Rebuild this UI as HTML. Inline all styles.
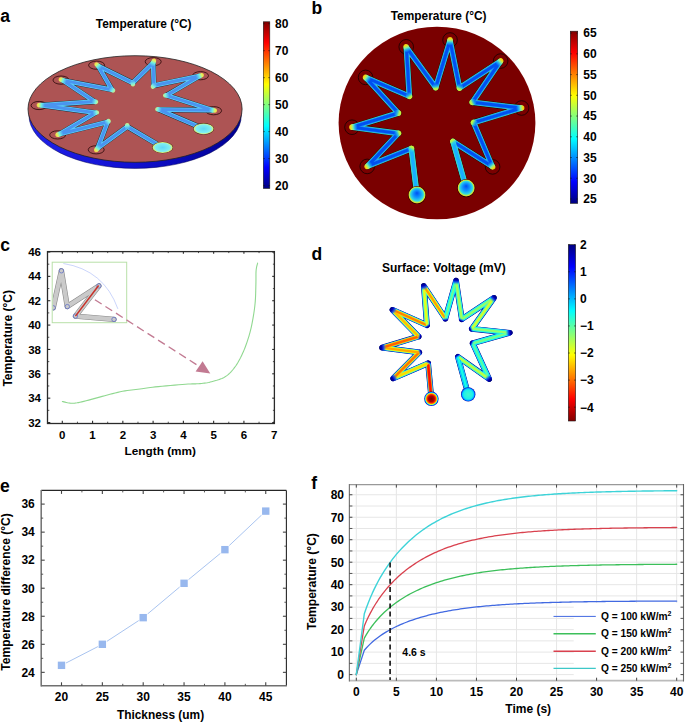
<!DOCTYPE html>
<html><head><meta charset="utf-8"><style>
html,body{margin:0;padding:0;background:#fff;}
svg{display:block;font-family:"Liberation Sans", sans-serif;}
</style></head><body>
<svg width="685" height="725" viewBox="0 0 685 725">
<rect width="685" height="725" fill="#fff"/>
<defs>
<linearGradient id="jetV" x1="0" y1="0" x2="0" y2="1"><stop offset="0.0000" stop-color="#800000"/><stop offset="0.0625" stop-color="#bf0000"/><stop offset="0.1250" stop-color="#ff0000"/><stop offset="0.1875" stop-color="#ff4000"/><stop offset="0.2500" stop-color="#ff8000"/><stop offset="0.3125" stop-color="#ffbf00"/><stop offset="0.3750" stop-color="#ffff00"/><stop offset="0.4375" stop-color="#bfff40"/><stop offset="0.5000" stop-color="#80ff80"/><stop offset="0.5625" stop-color="#40ffbf"/><stop offset="0.6250" stop-color="#00ffff"/><stop offset="0.6875" stop-color="#00bfff"/><stop offset="0.7500" stop-color="#0080ff"/><stop offset="0.8125" stop-color="#0040ff"/><stop offset="0.8750" stop-color="#0000ff"/><stop offset="0.9375" stop-color="#0000bf"/><stop offset="1.0000" stop-color="#000080"/></linearGradient>
<linearGradient id="jetVr" x1="0" y1="0" x2="0" y2="1"><stop offset="0.0000" stop-color="#000080"/><stop offset="0.0625" stop-color="#0000bf"/><stop offset="0.1250" stop-color="#0000ff"/><stop offset="0.1875" stop-color="#0040ff"/><stop offset="0.2500" stop-color="#0080ff"/><stop offset="0.3125" stop-color="#00bfff"/><stop offset="0.3750" stop-color="#00ffff"/><stop offset="0.4375" stop-color="#40ffbf"/><stop offset="0.5000" stop-color="#80ff80"/><stop offset="0.5625" stop-color="#bfff40"/><stop offset="0.6250" stop-color="#ffff00"/><stop offset="0.6875" stop-color="#ffbf00"/><stop offset="0.7500" stop-color="#ff8000"/><stop offset="0.8125" stop-color="#ff4000"/><stop offset="0.8750" stop-color="#ff0000"/><stop offset="0.9375" stop-color="#bf0000"/><stop offset="1.0000" stop-color="#800000"/></linearGradient>
<linearGradient id="sideA" x1="0" y1="0" x2="1" y2="0"><stop offset="0" stop-color="#2020e8"/><stop offset="0.5" stop-color="#1010d0"/><stop offset="1" stop-color="#000090"/></linearGradient>
<radialGradient id="padB" cx="0.5" cy="0.5" r="0.5" fx="0.5" fy="0.38"><stop offset="0" stop-color="#0050f0"/><stop offset="0.45" stop-color="#1098ff"/><stop offset="0.75" stop-color="#30d8e0"/><stop offset="0.88" stop-color="#a0f060"/><stop offset="0.95" stop-color="#f0d020"/><stop offset="1" stop-color="#ff9000"/></radialGradient>
<radialGradient id="padA"><stop offset="0" stop-color="#60d8f8"/><stop offset="0.75" stop-color="#80f0f0"/><stop offset="1" stop-color="#f0f060"/></radialGradient>
<radialGradient id="padDL"><stop offset="0" stop-color="#700000"/><stop offset="0.4" stop-color="#b00000"/><stop offset="0.6" stop-color="#ff3000"/><stop offset="0.72" stop-color="#ffb000"/><stop offset="0.8" stop-color="#c0ff40"/><stop offset="0.86" stop-color="#00d8ff"/><stop offset="0.93" stop-color="#0030ff"/><stop offset="1" stop-color="#000080"/></radialGradient>
<radialGradient id="padDR"><stop offset="0" stop-color="#40f8d0"/><stop offset="0.6" stop-color="#20f0e8"/><stop offset="0.8" stop-color="#00c8ff"/><stop offset="0.9" stop-color="#0050ff"/><stop offset="1" stop-color="#000090"/></radialGradient>
<linearGradient id="tipD" x1="0" y1="1" x2="0" y2="0"><stop offset="0" stop-color="#000070"/><stop offset="0.35" stop-color="#0000b8"/><stop offset="0.6" stop-color="#0040ff" stop-opacity="0.85"/><stop offset="0.85" stop-color="#00a0ff" stop-opacity="0.3"/><stop offset="1" stop-color="#00e0ff" stop-opacity="0"/></linearGradient>
<linearGradient id="tipBo" x1="0" y1="1" x2="0" y2="0"><stop offset="0" stop-color="#ffb000"/><stop offset="0.2" stop-color="#f0e020"/><stop offset="0.45" stop-color="#80f0a0"/><stop offset="0.7" stop-color="#30e0f0" stop-opacity="0.6"/><stop offset="1" stop-color="#20c0ff" stop-opacity="0"/></linearGradient>
<linearGradient id="tipBi" x1="0" y1="1" x2="0" y2="0"><stop offset="0" stop-color="#e0f020"/><stop offset="0.3" stop-color="#a0f060"/><stop offset="0.6" stop-color="#30e0e0" stop-opacity="0.6"/><stop offset="1" stop-color="#20c0ff" stop-opacity="0"/></linearGradient>
<linearGradient id="tipAo" x1="0" y1="1" x2="0" y2="0"><stop offset="0" stop-color="#f0d040"/><stop offset="0.25" stop-color="#e8f060"/><stop offset="0.55" stop-color="#70f0e0"/><stop offset="1" stop-color="#60e0f8" stop-opacity="0"/></linearGradient>
<linearGradient id="tipAi" x1="0" y1="1" x2="0" y2="0"><stop offset="0" stop-color="#d0f080"/><stop offset="0.4" stop-color="#80f0e0"/><stop offset="1" stop-color="#60e0f8" stop-opacity="0"/></linearGradient>
<linearGradient id="tipDi" x1="0" y1="1" x2="0" y2="0"><stop offset="0" stop-color="#000070"/><stop offset="0.2" stop-color="#0000c0"/><stop offset="0.38" stop-color="#0060ff" stop-opacity="0.6"/><stop offset="0.55" stop-color="#00c0ff" stop-opacity="0"/><stop offset="1" stop-color="#00c0ff" stop-opacity="0"/></linearGradient>
</defs>
<text x="0.20" y="22.30" font-size="17.5" text-anchor="start" font-weight="bold" fill="#000" >a</text>
<text x="311.50" y="14.30" font-size="17.5" text-anchor="start" font-weight="bold" fill="#000" >b</text>
<text x="0.30" y="250.80" font-size="17.5" text-anchor="start" font-weight="bold" fill="#000" >c</text>
<text x="311.50" y="259.50" font-size="17.5" text-anchor="start" font-weight="bold" fill="#000" >d</text>
<text x="0.00" y="491.70" font-size="17.5" text-anchor="start" font-weight="bold" fill="#000" >e</text>
<text x="311.20" y="489.00" font-size="17.5" text-anchor="start" font-weight="bold" fill="#000" >f</text>
<rect x="263.3" y="21.8" width="6.5" height="166.6" fill="url(#jetV)" stroke="#1a1a1a" stroke-width="0.6"/>
<text x="275.00" y="28.00" font-size="12" text-anchor="start" font-weight="bold" fill="#000" >80</text>
<line x1="263.30" y1="23.70" x2="264.80" y2="23.70" stroke="#111" stroke-width="0.6" />
<line x1="268.30" y1="23.70" x2="269.80" y2="23.70" stroke="#111" stroke-width="0.6" />
<text x="275.00" y="54.98" font-size="12" text-anchor="start" font-weight="bold" fill="#000" >70</text>
<line x1="263.30" y1="50.68" x2="264.80" y2="50.68" stroke="#111" stroke-width="0.6" />
<line x1="268.30" y1="50.68" x2="269.80" y2="50.68" stroke="#111" stroke-width="0.6" />
<text x="275.00" y="81.96" font-size="12" text-anchor="start" font-weight="bold" fill="#000" >60</text>
<line x1="263.30" y1="77.67" x2="264.80" y2="77.67" stroke="#111" stroke-width="0.6" />
<line x1="268.30" y1="77.67" x2="269.80" y2="77.67" stroke="#111" stroke-width="0.6" />
<text x="275.00" y="108.95" font-size="12" text-anchor="start" font-weight="bold" fill="#000" >50</text>
<line x1="263.30" y1="104.65" x2="264.80" y2="104.65" stroke="#111" stroke-width="0.6" />
<line x1="268.30" y1="104.65" x2="269.80" y2="104.65" stroke="#111" stroke-width="0.6" />
<text x="275.00" y="135.93" font-size="12" text-anchor="start" font-weight="bold" fill="#000" >40</text>
<line x1="263.30" y1="131.63" x2="264.80" y2="131.63" stroke="#111" stroke-width="0.6" />
<line x1="268.30" y1="131.63" x2="269.80" y2="131.63" stroke="#111" stroke-width="0.6" />
<text x="275.00" y="162.91" font-size="12" text-anchor="start" font-weight="bold" fill="#000" >30</text>
<line x1="263.30" y1="158.62" x2="264.80" y2="158.62" stroke="#111" stroke-width="0.6" />
<line x1="268.30" y1="158.62" x2="269.80" y2="158.62" stroke="#111" stroke-width="0.6" />
<text x="275.00" y="189.90" font-size="12" text-anchor="start" font-weight="bold" fill="#000" >20</text>
<line x1="263.30" y1="185.60" x2="264.80" y2="185.60" stroke="#111" stroke-width="0.6" />
<line x1="268.30" y1="185.60" x2="269.80" y2="185.60" stroke="#111" stroke-width="0.6" />
<rect x="570.3" y="31.2" width="7.400000000000091" height="172.10000000000002" fill="url(#jetV)" stroke="#1a1a1a" stroke-width="0.6"/>
<text x="583.30" y="37.40" font-size="12" text-anchor="start" font-weight="bold" fill="#000" >65</text>
<line x1="570.30" y1="33.10" x2="571.80" y2="33.10" stroke="#111" stroke-width="0.6" />
<line x1="576.20" y1="33.10" x2="577.70" y2="33.10" stroke="#111" stroke-width="0.6" />
<text x="583.30" y="58.13" font-size="12" text-anchor="start" font-weight="bold" fill="#000" >60</text>
<line x1="570.30" y1="53.84" x2="571.80" y2="53.84" stroke="#111" stroke-width="0.6" />
<line x1="576.20" y1="53.84" x2="577.70" y2="53.84" stroke="#111" stroke-width="0.6" />
<text x="583.30" y="78.87" font-size="12" text-anchor="start" font-weight="bold" fill="#000" >55</text>
<line x1="570.30" y1="74.58" x2="571.80" y2="74.58" stroke="#111" stroke-width="0.6" />
<line x1="576.20" y1="74.58" x2="577.70" y2="74.58" stroke="#111" stroke-width="0.6" />
<text x="583.30" y="99.61" font-size="12" text-anchor="start" font-weight="bold" fill="#000" >50</text>
<line x1="570.30" y1="95.31" x2="571.80" y2="95.31" stroke="#111" stroke-width="0.6" />
<line x1="576.20" y1="95.31" x2="577.70" y2="95.31" stroke="#111" stroke-width="0.6" />
<text x="583.30" y="120.35" font-size="12" text-anchor="start" font-weight="bold" fill="#000" >45</text>
<line x1="570.30" y1="116.05" x2="571.80" y2="116.05" stroke="#111" stroke-width="0.6" />
<line x1="576.20" y1="116.05" x2="577.70" y2="116.05" stroke="#111" stroke-width="0.6" />
<text x="583.30" y="141.08" font-size="12" text-anchor="start" font-weight="bold" fill="#000" >40</text>
<line x1="570.30" y1="136.79" x2="571.80" y2="136.79" stroke="#111" stroke-width="0.6" />
<line x1="576.20" y1="136.79" x2="577.70" y2="136.79" stroke="#111" stroke-width="0.6" />
<text x="583.30" y="161.82" font-size="12" text-anchor="start" font-weight="bold" fill="#000" >35</text>
<line x1="570.30" y1="157.53" x2="571.80" y2="157.53" stroke="#111" stroke-width="0.6" />
<line x1="576.20" y1="157.53" x2="577.70" y2="157.53" stroke="#111" stroke-width="0.6" />
<text x="583.30" y="182.56" font-size="12" text-anchor="start" font-weight="bold" fill="#000" >30</text>
<line x1="570.30" y1="178.26" x2="571.80" y2="178.26" stroke="#111" stroke-width="0.6" />
<line x1="576.20" y1="178.26" x2="577.70" y2="178.26" stroke="#111" stroke-width="0.6" />
<text x="583.30" y="203.30" font-size="12" text-anchor="start" font-weight="bold" fill="#000" >25</text>
<line x1="570.30" y1="199.00" x2="571.80" y2="199.00" stroke="#111" stroke-width="0.6" />
<line x1="576.20" y1="199.00" x2="577.70" y2="199.00" stroke="#111" stroke-width="0.6" />
<rect x="568.3" y="244.7" width="7.300000000000068" height="176.3" fill="url(#jetVr)" stroke="#1a1a1a" stroke-width="0.6"/>
<text x="580.00" y="249.00" font-size="12" text-anchor="start" font-weight="bold" fill="#000" >2</text>
<line x1="568.30" y1="244.70" x2="569.80" y2="244.70" stroke="#111" stroke-width="0.6" />
<line x1="574.10" y1="244.70" x2="575.60" y2="244.70" stroke="#111" stroke-width="0.6" />
<text x="580.00" y="276.08" font-size="12" text-anchor="start" font-weight="bold" fill="#000" >1</text>
<line x1="568.30" y1="271.78" x2="569.80" y2="271.78" stroke="#111" stroke-width="0.6" />
<line x1="574.10" y1="271.78" x2="575.60" y2="271.78" stroke="#111" stroke-width="0.6" />
<text x="580.00" y="303.16" font-size="12" text-anchor="start" font-weight="bold" fill="#000" >0</text>
<line x1="568.30" y1="298.87" x2="569.80" y2="298.87" stroke="#111" stroke-width="0.6" />
<line x1="574.10" y1="298.87" x2="575.60" y2="298.87" stroke="#111" stroke-width="0.6" />
<text x="580.00" y="330.25" font-size="12" text-anchor="start" font-weight="bold" fill="#000" >−1</text>
<line x1="568.30" y1="325.95" x2="569.80" y2="325.95" stroke="#111" stroke-width="0.6" />
<line x1="574.10" y1="325.95" x2="575.60" y2="325.95" stroke="#111" stroke-width="0.6" />
<text x="580.00" y="357.33" font-size="12" text-anchor="start" font-weight="bold" fill="#000" >−2</text>
<line x1="568.30" y1="353.03" x2="569.80" y2="353.03" stroke="#111" stroke-width="0.6" />
<line x1="574.10" y1="353.03" x2="575.60" y2="353.03" stroke="#111" stroke-width="0.6" />
<text x="580.00" y="384.41" font-size="12" text-anchor="start" font-weight="bold" fill="#000" >−3</text>
<line x1="568.30" y1="380.12" x2="569.80" y2="380.12" stroke="#111" stroke-width="0.6" />
<line x1="574.10" y1="380.12" x2="575.60" y2="380.12" stroke="#111" stroke-width="0.6" />
<text x="580.00" y="411.50" font-size="12" text-anchor="start" font-weight="bold" fill="#000" >−4</text>
<line x1="568.30" y1="407.20" x2="569.80" y2="407.20" stroke="#111" stroke-width="0.6" />
<line x1="574.10" y1="407.20" x2="575.60" y2="407.20" stroke="#111" stroke-width="0.6" />
<text x="143.70" y="28.00" font-size="11.9" text-anchor="middle" font-weight="bold" fill="#000" >Temperature (°C)</text>
<text x="438.60" y="19.90" font-size="11.9" text-anchor="middle" font-weight="bold" fill="#000" >Temperature (°C)</text>
<text x="443.90" y="271.50" font-size="12.0" text-anchor="middle" font-weight="bold" fill="#000" >Surface: Voltage (mV)</text>
<rect x="47.5" y="251.6" width="226.89999999999998" height="171.9" fill="none" stroke="#2a2a2a" stroke-width="1.3"/>
<line x1="62.30" y1="423.50" x2="62.30" y2="420.70" stroke="#2a2a2a" stroke-width="1.1" />
<line x1="62.30" y1="251.60" x2="62.30" y2="253.80" stroke="#2a2a2a" stroke-width="1.1" />
<text x="62.30" y="438.72" font-size="11.5" text-anchor="middle" font-weight="bold" fill="#000" >0</text>
<line x1="92.57" y1="423.50" x2="92.57" y2="420.70" stroke="#2a2a2a" stroke-width="1.1" />
<line x1="92.57" y1="251.60" x2="92.57" y2="253.80" stroke="#2a2a2a" stroke-width="1.1" />
<text x="92.57" y="438.72" font-size="11.5" text-anchor="middle" font-weight="bold" fill="#000" >1</text>
<line x1="122.84" y1="423.50" x2="122.84" y2="420.70" stroke="#2a2a2a" stroke-width="1.1" />
<line x1="122.84" y1="251.60" x2="122.84" y2="253.80" stroke="#2a2a2a" stroke-width="1.1" />
<text x="122.84" y="438.72" font-size="11.5" text-anchor="middle" font-weight="bold" fill="#000" >2</text>
<line x1="153.11" y1="423.50" x2="153.11" y2="420.70" stroke="#2a2a2a" stroke-width="1.1" />
<line x1="153.11" y1="251.60" x2="153.11" y2="253.80" stroke="#2a2a2a" stroke-width="1.1" />
<text x="153.11" y="438.72" font-size="11.5" text-anchor="middle" font-weight="bold" fill="#000" >3</text>
<line x1="183.38" y1="423.50" x2="183.38" y2="420.70" stroke="#2a2a2a" stroke-width="1.1" />
<line x1="183.38" y1="251.60" x2="183.38" y2="253.80" stroke="#2a2a2a" stroke-width="1.1" />
<text x="183.38" y="438.72" font-size="11.5" text-anchor="middle" font-weight="bold" fill="#000" >4</text>
<line x1="213.65" y1="423.50" x2="213.65" y2="420.70" stroke="#2a2a2a" stroke-width="1.1" />
<line x1="213.65" y1="251.60" x2="213.65" y2="253.80" stroke="#2a2a2a" stroke-width="1.1" />
<text x="213.65" y="438.72" font-size="11.5" text-anchor="middle" font-weight="bold" fill="#000" >5</text>
<line x1="243.92" y1="423.50" x2="243.92" y2="420.70" stroke="#2a2a2a" stroke-width="1.1" />
<line x1="243.92" y1="251.60" x2="243.92" y2="253.80" stroke="#2a2a2a" stroke-width="1.1" />
<text x="243.92" y="438.72" font-size="11.5" text-anchor="middle" font-weight="bold" fill="#000" >6</text>
<line x1="274.19" y1="423.50" x2="274.19" y2="420.70" stroke="#2a2a2a" stroke-width="1.1" />
<line x1="274.19" y1="251.60" x2="274.19" y2="253.80" stroke="#2a2a2a" stroke-width="1.1" />
<text x="274.19" y="438.72" font-size="11.5" text-anchor="middle" font-weight="bold" fill="#000" >7</text>
<line x1="77.44" y1="423.50" x2="77.44" y2="421.70" stroke="#2a2a2a" stroke-width="0.8" />
<line x1="77.44" y1="251.60" x2="77.44" y2="253.10" stroke="#2a2a2a" stroke-width="0.8" />
<line x1="107.70" y1="423.50" x2="107.70" y2="421.70" stroke="#2a2a2a" stroke-width="0.8" />
<line x1="107.70" y1="251.60" x2="107.70" y2="253.10" stroke="#2a2a2a" stroke-width="0.8" />
<line x1="137.97" y1="423.50" x2="137.97" y2="421.70" stroke="#2a2a2a" stroke-width="0.8" />
<line x1="137.97" y1="251.60" x2="137.97" y2="253.10" stroke="#2a2a2a" stroke-width="0.8" />
<line x1="168.25" y1="423.50" x2="168.25" y2="421.70" stroke="#2a2a2a" stroke-width="0.8" />
<line x1="168.25" y1="251.60" x2="168.25" y2="253.10" stroke="#2a2a2a" stroke-width="0.8" />
<line x1="198.51" y1="423.50" x2="198.51" y2="421.70" stroke="#2a2a2a" stroke-width="0.8" />
<line x1="198.51" y1="251.60" x2="198.51" y2="253.10" stroke="#2a2a2a" stroke-width="0.8" />
<line x1="228.78" y1="423.50" x2="228.78" y2="421.70" stroke="#2a2a2a" stroke-width="0.8" />
<line x1="228.78" y1="251.60" x2="228.78" y2="253.10" stroke="#2a2a2a" stroke-width="0.8" />
<line x1="259.06" y1="423.50" x2="259.06" y2="421.70" stroke="#2a2a2a" stroke-width="0.8" />
<line x1="259.06" y1="251.60" x2="259.06" y2="253.10" stroke="#2a2a2a" stroke-width="0.8" />
<line x1="47.50" y1="422.52" x2="50.30" y2="422.52" stroke="#2a2a2a" stroke-width="1.1" />
<line x1="274.40" y1="422.52" x2="272.20" y2="422.52" stroke="#2a2a2a" stroke-width="1.1" />
<text x="41.00" y="426.64" font-size="11.5" text-anchor="end" font-weight="bold" fill="#000" >32</text>
<line x1="47.50" y1="398.16" x2="50.30" y2="398.16" stroke="#2a2a2a" stroke-width="1.1" />
<line x1="274.40" y1="398.16" x2="272.20" y2="398.16" stroke="#2a2a2a" stroke-width="1.1" />
<text x="41.00" y="402.28" font-size="11.5" text-anchor="end" font-weight="bold" fill="#000" >34</text>
<line x1="47.50" y1="373.80" x2="50.30" y2="373.80" stroke="#2a2a2a" stroke-width="1.1" />
<line x1="274.40" y1="373.80" x2="272.20" y2="373.80" stroke="#2a2a2a" stroke-width="1.1" />
<text x="41.00" y="377.92" font-size="11.5" text-anchor="end" font-weight="bold" fill="#000" >36</text>
<line x1="47.50" y1="349.44" x2="50.30" y2="349.44" stroke="#2a2a2a" stroke-width="1.1" />
<line x1="274.40" y1="349.44" x2="272.20" y2="349.44" stroke="#2a2a2a" stroke-width="1.1" />
<text x="41.00" y="353.56" font-size="11.5" text-anchor="end" font-weight="bold" fill="#000" >38</text>
<line x1="47.50" y1="325.08" x2="50.30" y2="325.08" stroke="#2a2a2a" stroke-width="1.1" />
<line x1="274.40" y1="325.08" x2="272.20" y2="325.08" stroke="#2a2a2a" stroke-width="1.1" />
<text x="41.00" y="329.20" font-size="11.5" text-anchor="end" font-weight="bold" fill="#000" >40</text>
<line x1="47.50" y1="300.72" x2="50.30" y2="300.72" stroke="#2a2a2a" stroke-width="1.1" />
<line x1="274.40" y1="300.72" x2="272.20" y2="300.72" stroke="#2a2a2a" stroke-width="1.1" />
<text x="41.00" y="304.84" font-size="11.5" text-anchor="end" font-weight="bold" fill="#000" >42</text>
<line x1="47.50" y1="276.36" x2="50.30" y2="276.36" stroke="#2a2a2a" stroke-width="1.1" />
<line x1="274.40" y1="276.36" x2="272.20" y2="276.36" stroke="#2a2a2a" stroke-width="1.1" />
<text x="41.00" y="280.48" font-size="11.5" text-anchor="end" font-weight="bold" fill="#000" >44</text>
<line x1="47.50" y1="252.00" x2="50.30" y2="252.00" stroke="#2a2a2a" stroke-width="1.1" />
<line x1="274.40" y1="252.00" x2="272.20" y2="252.00" stroke="#2a2a2a" stroke-width="1.1" />
<text x="41.00" y="256.12" font-size="11.5" text-anchor="end" font-weight="bold" fill="#000" >46</text>
<line x1="47.50" y1="410.34" x2="49.30" y2="410.34" stroke="#2a2a2a" stroke-width="0.8" />
<line x1="274.40" y1="410.34" x2="272.90" y2="410.34" stroke="#2a2a2a" stroke-width="0.8" />
<line x1="47.50" y1="385.98" x2="49.30" y2="385.98" stroke="#2a2a2a" stroke-width="0.8" />
<line x1="274.40" y1="385.98" x2="272.90" y2="385.98" stroke="#2a2a2a" stroke-width="0.8" />
<line x1="47.50" y1="361.62" x2="49.30" y2="361.62" stroke="#2a2a2a" stroke-width="0.8" />
<line x1="274.40" y1="361.62" x2="272.90" y2="361.62" stroke="#2a2a2a" stroke-width="0.8" />
<line x1="47.50" y1="337.26" x2="49.30" y2="337.26" stroke="#2a2a2a" stroke-width="0.8" />
<line x1="274.40" y1="337.26" x2="272.90" y2="337.26" stroke="#2a2a2a" stroke-width="0.8" />
<line x1="47.50" y1="312.90" x2="49.30" y2="312.90" stroke="#2a2a2a" stroke-width="0.8" />
<line x1="274.40" y1="312.90" x2="272.90" y2="312.90" stroke="#2a2a2a" stroke-width="0.8" />
<line x1="47.50" y1="288.54" x2="49.30" y2="288.54" stroke="#2a2a2a" stroke-width="0.8" />
<line x1="274.40" y1="288.54" x2="272.90" y2="288.54" stroke="#2a2a2a" stroke-width="0.8" />
<line x1="47.50" y1="264.18" x2="49.30" y2="264.18" stroke="#2a2a2a" stroke-width="0.8" />
<line x1="274.40" y1="264.18" x2="272.90" y2="264.18" stroke="#2a2a2a" stroke-width="0.8" />
<text x="160.30" y="455.42" font-size="11.8" text-anchor="middle" font-weight="bold" fill="#000" >Length (mm)</text>
<text transform="translate(11.6,338.3) rotate(-90)" font-size="12.0" text-anchor="middle" font-weight="bold">Temperature (°C)</text>
<line x1="41.20" y1="490.40" x2="286.40" y2="490.40" stroke="#262626" stroke-width="1.1" />
<line x1="286.40" y1="490.40" x2="286.40" y2="685.80" stroke="#262626" stroke-width="1.1" />
<line x1="41.20" y1="685.80" x2="286.90" y2="685.80" stroke="#707070" stroke-width="1.5" />
<line x1="41.20" y1="489.90" x2="41.20" y2="686.50" stroke="#707070" stroke-width="1.5" />
<line x1="61.50" y1="685.80" x2="61.50" y2="682.30" stroke="#444" stroke-width="1.1" />
<line x1="61.50" y1="490.40" x2="61.50" y2="493.90" stroke="#444" stroke-width="1.1" />
<text x="61.50" y="701.00" font-size="12" text-anchor="middle" font-weight="bold" fill="#000" >20</text>
<line x1="102.35" y1="685.80" x2="102.35" y2="682.30" stroke="#444" stroke-width="1.1" />
<line x1="102.35" y1="490.40" x2="102.35" y2="493.90" stroke="#444" stroke-width="1.1" />
<text x="102.35" y="701.00" font-size="12" text-anchor="middle" font-weight="bold" fill="#000" >25</text>
<line x1="143.20" y1="685.80" x2="143.20" y2="682.30" stroke="#444" stroke-width="1.1" />
<line x1="143.20" y1="490.40" x2="143.20" y2="493.90" stroke="#444" stroke-width="1.1" />
<text x="143.20" y="701.00" font-size="12" text-anchor="middle" font-weight="bold" fill="#000" >30</text>
<line x1="184.05" y1="685.80" x2="184.05" y2="682.30" stroke="#444" stroke-width="1.1" />
<line x1="184.05" y1="490.40" x2="184.05" y2="493.90" stroke="#444" stroke-width="1.1" />
<text x="184.05" y="701.00" font-size="12" text-anchor="middle" font-weight="bold" fill="#000" >35</text>
<line x1="224.90" y1="685.80" x2="224.90" y2="682.30" stroke="#444" stroke-width="1.1" />
<line x1="224.90" y1="490.40" x2="224.90" y2="493.90" stroke="#444" stroke-width="1.1" />
<text x="224.90" y="701.00" font-size="12" text-anchor="middle" font-weight="bold" fill="#000" >40</text>
<line x1="265.75" y1="685.80" x2="265.75" y2="682.30" stroke="#444" stroke-width="1.1" />
<line x1="265.75" y1="490.40" x2="265.75" y2="493.90" stroke="#444" stroke-width="1.1" />
<text x="265.75" y="701.00" font-size="12" text-anchor="middle" font-weight="bold" fill="#000" >45</text>
<line x1="81.92" y1="685.80" x2="81.92" y2="683.80" stroke="#444" stroke-width="0.9" />
<line x1="81.92" y1="490.40" x2="81.92" y2="492.40" stroke="#444" stroke-width="0.9" />
<line x1="122.78" y1="685.80" x2="122.78" y2="683.80" stroke="#444" stroke-width="0.9" />
<line x1="122.78" y1="490.40" x2="122.78" y2="492.40" stroke="#444" stroke-width="0.9" />
<line x1="163.62" y1="685.80" x2="163.62" y2="683.80" stroke="#444" stroke-width="0.9" />
<line x1="163.62" y1="490.40" x2="163.62" y2="492.40" stroke="#444" stroke-width="0.9" />
<line x1="204.47" y1="685.80" x2="204.47" y2="683.80" stroke="#444" stroke-width="0.9" />
<line x1="204.47" y1="490.40" x2="204.47" y2="492.40" stroke="#444" stroke-width="0.9" />
<line x1="245.32" y1="685.80" x2="245.32" y2="683.80" stroke="#444" stroke-width="0.9" />
<line x1="245.32" y1="490.40" x2="245.32" y2="492.40" stroke="#444" stroke-width="0.9" />
<line x1="41.20" y1="672.34" x2="44.70" y2="672.34" stroke="#444" stroke-width="1.1" />
<line x1="286.40" y1="672.34" x2="282.90" y2="672.34" stroke="#444" stroke-width="1.1" />
<text x="34.80" y="676.64" font-size="12" text-anchor="end" font-weight="bold" fill="#000" >24</text>
<line x1="41.20" y1="644.30" x2="44.70" y2="644.30" stroke="#444" stroke-width="1.1" />
<line x1="286.40" y1="644.30" x2="282.90" y2="644.30" stroke="#444" stroke-width="1.1" />
<text x="34.80" y="648.60" font-size="12" text-anchor="end" font-weight="bold" fill="#000" >26</text>
<line x1="41.20" y1="616.26" x2="44.70" y2="616.26" stroke="#444" stroke-width="1.1" />
<line x1="286.40" y1="616.26" x2="282.90" y2="616.26" stroke="#444" stroke-width="1.1" />
<text x="34.80" y="620.56" font-size="12" text-anchor="end" font-weight="bold" fill="#000" >28</text>
<line x1="41.20" y1="588.22" x2="44.70" y2="588.22" stroke="#444" stroke-width="1.1" />
<line x1="286.40" y1="588.22" x2="282.90" y2="588.22" stroke="#444" stroke-width="1.1" />
<text x="34.80" y="592.52" font-size="12" text-anchor="end" font-weight="bold" fill="#000" >30</text>
<line x1="41.20" y1="560.18" x2="44.70" y2="560.18" stroke="#444" stroke-width="1.1" />
<line x1="286.40" y1="560.18" x2="282.90" y2="560.18" stroke="#444" stroke-width="1.1" />
<text x="34.80" y="564.48" font-size="12" text-anchor="end" font-weight="bold" fill="#000" >32</text>
<line x1="41.20" y1="532.14" x2="44.70" y2="532.14" stroke="#444" stroke-width="1.1" />
<line x1="286.40" y1="532.14" x2="282.90" y2="532.14" stroke="#444" stroke-width="1.1" />
<text x="34.80" y="536.44" font-size="12" text-anchor="end" font-weight="bold" fill="#000" >34</text>
<line x1="41.20" y1="504.10" x2="44.70" y2="504.10" stroke="#444" stroke-width="1.1" />
<line x1="286.40" y1="504.10" x2="282.90" y2="504.10" stroke="#444" stroke-width="1.1" />
<text x="34.80" y="508.40" font-size="12" text-anchor="end" font-weight="bold" fill="#000" >36</text>
<line x1="41.20" y1="658.32" x2="43.20" y2="658.32" stroke="#444" stroke-width="0.9" />
<line x1="286.40" y1="658.32" x2="284.40" y2="658.32" stroke="#444" stroke-width="0.9" />
<line x1="41.20" y1="630.28" x2="43.20" y2="630.28" stroke="#444" stroke-width="0.9" />
<line x1="286.40" y1="630.28" x2="284.40" y2="630.28" stroke="#444" stroke-width="0.9" />
<line x1="41.20" y1="602.24" x2="43.20" y2="602.24" stroke="#444" stroke-width="0.9" />
<line x1="286.40" y1="602.24" x2="284.40" y2="602.24" stroke="#444" stroke-width="0.9" />
<line x1="41.20" y1="574.20" x2="43.20" y2="574.20" stroke="#444" stroke-width="0.9" />
<line x1="286.40" y1="574.20" x2="284.40" y2="574.20" stroke="#444" stroke-width="0.9" />
<line x1="41.20" y1="546.16" x2="43.20" y2="546.16" stroke="#444" stroke-width="0.9" />
<line x1="286.40" y1="546.16" x2="284.40" y2="546.16" stroke="#444" stroke-width="0.9" />
<line x1="41.20" y1="518.12" x2="43.20" y2="518.12" stroke="#444" stroke-width="0.9" />
<line x1="286.40" y1="518.12" x2="284.40" y2="518.12" stroke="#444" stroke-width="0.9" />
<text x="160.50" y="719.26" font-size="11.9" text-anchor="middle" font-weight="bold" fill="#000" >Thickness (um)</text>
<text transform="translate(10.0,592.0) rotate(-90)" font-size="12.0" text-anchor="middle" font-weight="bold">Temperature difference (°C)</text>
<line x1="356.30" y1="484.60" x2="356.30" y2="680.70" stroke="#e6e6e6" stroke-width="1.0" />
<line x1="396.35" y1="484.60" x2="396.35" y2="680.70" stroke="#e6e6e6" stroke-width="1.0" />
<line x1="436.40" y1="484.60" x2="436.40" y2="680.70" stroke="#e6e6e6" stroke-width="1.0" />
<line x1="476.45" y1="484.60" x2="476.45" y2="680.70" stroke="#e6e6e6" stroke-width="1.0" />
<line x1="516.50" y1="484.60" x2="516.50" y2="680.70" stroke="#e6e6e6" stroke-width="1.0" />
<line x1="556.55" y1="484.60" x2="556.55" y2="680.70" stroke="#e6e6e6" stroke-width="1.0" />
<line x1="596.60" y1="484.60" x2="596.60" y2="680.70" stroke="#e6e6e6" stroke-width="1.0" />
<line x1="636.65" y1="484.60" x2="636.65" y2="680.70" stroke="#e6e6e6" stroke-width="1.0" />
<line x1="676.70" y1="484.60" x2="676.70" y2="680.70" stroke="#e6e6e6" stroke-width="1.0" />
<line x1="349.40" y1="674.60" x2="683.50" y2="674.60" stroke="#e6e6e6" stroke-width="1.0" />
<line x1="349.40" y1="663.36" x2="683.50" y2="663.36" stroke="#e6e6e6" stroke-width="1.0" />
<line x1="349.40" y1="652.12" x2="683.50" y2="652.12" stroke="#e6e6e6" stroke-width="1.0" />
<line x1="349.40" y1="640.88" x2="683.50" y2="640.88" stroke="#e6e6e6" stroke-width="1.0" />
<line x1="349.40" y1="629.64" x2="683.50" y2="629.64" stroke="#e6e6e6" stroke-width="1.0" />
<line x1="349.40" y1="618.40" x2="683.50" y2="618.40" stroke="#e6e6e6" stroke-width="1.0" />
<line x1="349.40" y1="607.16" x2="683.50" y2="607.16" stroke="#e6e6e6" stroke-width="1.0" />
<line x1="349.40" y1="595.92" x2="683.50" y2="595.92" stroke="#e6e6e6" stroke-width="1.0" />
<line x1="349.40" y1="584.68" x2="683.50" y2="584.68" stroke="#e6e6e6" stroke-width="1.0" />
<line x1="349.40" y1="573.44" x2="683.50" y2="573.44" stroke="#e6e6e6" stroke-width="1.0" />
<line x1="349.40" y1="562.20" x2="683.50" y2="562.20" stroke="#e6e6e6" stroke-width="1.0" />
<line x1="349.40" y1="550.96" x2="683.50" y2="550.96" stroke="#e6e6e6" stroke-width="1.0" />
<line x1="349.40" y1="539.72" x2="683.50" y2="539.72" stroke="#e6e6e6" stroke-width="1.0" />
<line x1="349.40" y1="528.48" x2="683.50" y2="528.48" stroke="#e6e6e6" stroke-width="1.0" />
<line x1="349.40" y1="517.24" x2="683.50" y2="517.24" stroke="#e6e6e6" stroke-width="1.0" />
<line x1="349.40" y1="506.00" x2="683.50" y2="506.00" stroke="#e6e6e6" stroke-width="1.0" />
<line x1="349.40" y1="494.76" x2="683.50" y2="494.76" stroke="#e6e6e6" stroke-width="1.0" />
<rect x="573.7" y="603" width="109.80" height="77.70" fill="#fff"/>
<line x1="349.40" y1="484.60" x2="683.50" y2="484.60" stroke="#999" stroke-width="1.3" />
<line x1="349.40" y1="680.70" x2="683.50" y2="680.70" stroke="#bbb" stroke-width="1.7" />
<line x1="349.40" y1="484.00" x2="349.40" y2="681.50" stroke="#777" stroke-width="1.2" />
<line x1="683.50" y1="484.00" x2="683.50" y2="681.50" stroke="#666" stroke-width="1.1" />
<line x1="356.30" y1="680.70" x2="356.30" y2="677.70" stroke="#444" stroke-width="1" />
<line x1="356.30" y1="484.60" x2="356.30" y2="487.60" stroke="#444" stroke-width="1" />
<text x="356.30" y="695.80" font-size="12" text-anchor="middle" font-weight="bold" fill="#000" >0</text>
<line x1="396.35" y1="680.70" x2="396.35" y2="677.70" stroke="#444" stroke-width="1" />
<line x1="396.35" y1="484.60" x2="396.35" y2="487.60" stroke="#444" stroke-width="1" />
<text x="396.35" y="695.80" font-size="12" text-anchor="middle" font-weight="bold" fill="#000" >5</text>
<line x1="436.40" y1="680.70" x2="436.40" y2="677.70" stroke="#444" stroke-width="1" />
<line x1="436.40" y1="484.60" x2="436.40" y2="487.60" stroke="#444" stroke-width="1" />
<text x="436.40" y="695.80" font-size="12" text-anchor="middle" font-weight="bold" fill="#000" >10</text>
<line x1="476.45" y1="680.70" x2="476.45" y2="677.70" stroke="#444" stroke-width="1" />
<line x1="476.45" y1="484.60" x2="476.45" y2="487.60" stroke="#444" stroke-width="1" />
<text x="476.45" y="695.80" font-size="12" text-anchor="middle" font-weight="bold" fill="#000" >15</text>
<line x1="516.50" y1="680.70" x2="516.50" y2="677.70" stroke="#444" stroke-width="1" />
<line x1="516.50" y1="484.60" x2="516.50" y2="487.60" stroke="#444" stroke-width="1" />
<text x="516.50" y="695.80" font-size="12" text-anchor="middle" font-weight="bold" fill="#000" >20</text>
<line x1="556.55" y1="680.70" x2="556.55" y2="677.70" stroke="#444" stroke-width="1" />
<line x1="556.55" y1="484.60" x2="556.55" y2="487.60" stroke="#444" stroke-width="1" />
<text x="556.55" y="695.80" font-size="12" text-anchor="middle" font-weight="bold" fill="#000" >25</text>
<line x1="596.60" y1="680.70" x2="596.60" y2="677.70" stroke="#444" stroke-width="1" />
<line x1="596.60" y1="484.60" x2="596.60" y2="487.60" stroke="#444" stroke-width="1" />
<text x="596.60" y="695.80" font-size="12" text-anchor="middle" font-weight="bold" fill="#000" >30</text>
<line x1="636.65" y1="680.70" x2="636.65" y2="677.70" stroke="#444" stroke-width="1" />
<line x1="636.65" y1="484.60" x2="636.65" y2="487.60" stroke="#444" stroke-width="1" />
<text x="636.65" y="695.80" font-size="12" text-anchor="middle" font-weight="bold" fill="#000" >35</text>
<line x1="676.70" y1="680.70" x2="676.70" y2="677.70" stroke="#444" stroke-width="1" />
<line x1="676.70" y1="484.60" x2="676.70" y2="487.60" stroke="#444" stroke-width="1" />
<text x="676.70" y="695.80" font-size="12" text-anchor="middle" font-weight="bold" fill="#000" >40</text>
<line x1="349.40" y1="674.60" x2="352.40" y2="674.60" stroke="#444" stroke-width="1" />
<line x1="683.50" y1="674.60" x2="680.50" y2="674.60" stroke="#444" stroke-width="1" />
<text x="344.00" y="678.90" font-size="12" text-anchor="end" font-weight="bold" fill="#000" >0</text>
<line x1="349.40" y1="652.12" x2="352.40" y2="652.12" stroke="#444" stroke-width="1" />
<line x1="683.50" y1="652.12" x2="680.50" y2="652.12" stroke="#444" stroke-width="1" />
<text x="344.00" y="656.42" font-size="12" text-anchor="end" font-weight="bold" fill="#000" >10</text>
<line x1="349.40" y1="629.64" x2="352.40" y2="629.64" stroke="#444" stroke-width="1" />
<line x1="683.50" y1="629.64" x2="680.50" y2="629.64" stroke="#444" stroke-width="1" />
<text x="344.00" y="633.94" font-size="12" text-anchor="end" font-weight="bold" fill="#000" >20</text>
<line x1="349.40" y1="607.16" x2="352.40" y2="607.16" stroke="#444" stroke-width="1" />
<line x1="683.50" y1="607.16" x2="680.50" y2="607.16" stroke="#444" stroke-width="1" />
<text x="344.00" y="611.46" font-size="12" text-anchor="end" font-weight="bold" fill="#000" >30</text>
<line x1="349.40" y1="584.68" x2="352.40" y2="584.68" stroke="#444" stroke-width="1" />
<line x1="683.50" y1="584.68" x2="680.50" y2="584.68" stroke="#444" stroke-width="1" />
<text x="344.00" y="588.98" font-size="12" text-anchor="end" font-weight="bold" fill="#000" >40</text>
<line x1="349.40" y1="562.20" x2="352.40" y2="562.20" stroke="#444" stroke-width="1" />
<line x1="683.50" y1="562.20" x2="680.50" y2="562.20" stroke="#444" stroke-width="1" />
<text x="344.00" y="566.50" font-size="12" text-anchor="end" font-weight="bold" fill="#000" >50</text>
<line x1="349.40" y1="539.72" x2="352.40" y2="539.72" stroke="#444" stroke-width="1" />
<line x1="683.50" y1="539.72" x2="680.50" y2="539.72" stroke="#444" stroke-width="1" />
<text x="344.00" y="544.02" font-size="12" text-anchor="end" font-weight="bold" fill="#000" >60</text>
<line x1="349.40" y1="517.24" x2="352.40" y2="517.24" stroke="#444" stroke-width="1" />
<line x1="683.50" y1="517.24" x2="680.50" y2="517.24" stroke="#444" stroke-width="1" />
<text x="344.00" y="521.54" font-size="12" text-anchor="end" font-weight="bold" fill="#000" >70</text>
<line x1="349.40" y1="494.76" x2="352.40" y2="494.76" stroke="#444" stroke-width="1" />
<line x1="683.50" y1="494.76" x2="680.50" y2="494.76" stroke="#444" stroke-width="1" />
<text x="344.00" y="499.06" font-size="12" text-anchor="end" font-weight="bold" fill="#000" >80</text>
<line x1="349.40" y1="663.36" x2="352.40" y2="663.36" stroke="#444" stroke-width="0.9" />
<line x1="683.50" y1="663.36" x2="680.50" y2="663.36" stroke="#444" stroke-width="0.9" />
<line x1="349.40" y1="640.88" x2="352.40" y2="640.88" stroke="#444" stroke-width="0.9" />
<line x1="683.50" y1="640.88" x2="680.50" y2="640.88" stroke="#444" stroke-width="0.9" />
<line x1="349.40" y1="618.40" x2="352.40" y2="618.40" stroke="#444" stroke-width="0.9" />
<line x1="683.50" y1="618.40" x2="680.50" y2="618.40" stroke="#444" stroke-width="0.9" />
<line x1="349.40" y1="595.92" x2="352.40" y2="595.92" stroke="#444" stroke-width="0.9" />
<line x1="683.50" y1="595.92" x2="680.50" y2="595.92" stroke="#444" stroke-width="0.9" />
<line x1="349.40" y1="573.44" x2="352.40" y2="573.44" stroke="#444" stroke-width="0.9" />
<line x1="683.50" y1="573.44" x2="680.50" y2="573.44" stroke="#444" stroke-width="0.9" />
<line x1="349.40" y1="550.96" x2="352.40" y2="550.96" stroke="#444" stroke-width="0.9" />
<line x1="683.50" y1="550.96" x2="680.50" y2="550.96" stroke="#444" stroke-width="0.9" />
<line x1="349.40" y1="528.48" x2="352.40" y2="528.48" stroke="#444" stroke-width="0.9" />
<line x1="683.50" y1="528.48" x2="680.50" y2="528.48" stroke="#444" stroke-width="0.9" />
<line x1="349.40" y1="506.00" x2="352.40" y2="506.00" stroke="#444" stroke-width="0.9" />
<line x1="683.50" y1="506.00" x2="680.50" y2="506.00" stroke="#444" stroke-width="0.9" />
<text x="528.20" y="713.30" font-size="12" text-anchor="middle" font-weight="bold" fill="#000" >Time (s)</text>
<text transform="translate(315.8,581.6) rotate(-90)" font-size="12.05" text-anchor="middle" font-weight="bold">Temperature (°C)</text>
<path d="M62.30,401.50 L63.00,401.65 L63.93,401.88 L65.03,402.14 L66.26,402.43 L67.57,402.71 L68.91,402.95 L70.24,403.12 L71.50,403.20 L72.66,403.21 L73.74,403.18 L74.80,403.12 L75.89,403.00 L77.08,402.83 L78.40,402.59 L79.93,402.28 L81.70,401.90 L83.77,401.41 L86.10,400.81 L88.64,400.13 L91.31,399.39 L94.07,398.62 L96.84,397.85 L99.57,397.10 L102.20,396.40 L104.78,395.72 L107.38,395.03 L109.99,394.34 L112.59,393.65 L115.17,392.99 L117.71,392.37 L120.19,391.80 L122.60,391.30 L124.93,390.88 L127.21,390.52 L129.44,390.22 L131.62,389.96 L133.77,389.72 L135.88,389.50 L137.95,389.26 L140.00,389.00 L141.90,388.73 L143.60,388.47 L145.20,388.22 L146.79,387.97 L148.49,387.72 L150.39,387.46 L152.59,387.19 L155.20,386.90 L158.37,386.58 L162.08,386.22 L166.15,385.84 L170.39,385.46 L174.63,385.09 L178.68,384.74 L182.37,384.44 L185.50,384.20 L188.09,384.03 L190.30,383.93 L192.22,383.88 L193.92,383.85 L195.47,383.83 L196.95,383.79 L198.43,383.72 L200.00,383.60 L201.58,383.45 L203.06,383.29 L204.48,383.11 L205.86,382.92 L207.24,382.69 L208.63,382.42 L210.08,382.09 L211.60,381.70 L213.22,381.26 L214.93,380.80 L216.69,380.29 L218.47,379.73 L220.23,379.11 L221.95,378.43 L223.58,377.66 L225.10,376.80 L226.51,375.85 L227.84,374.82 L229.10,373.72 L230.31,372.54 L231.48,371.30 L232.60,369.99 L233.71,368.62 L234.80,367.20 L235.87,365.70 L236.91,364.12 L237.92,362.47 L238.89,360.76 L239.84,359.01 L240.76,357.22 L241.64,355.41 L242.50,353.60 L243.33,351.76 L244.13,349.88 L244.90,347.96 L245.64,346.02 L246.35,344.06 L247.03,342.10 L247.68,340.14 L248.30,338.20 L248.89,336.29 L249.43,334.42 L249.95,332.57 L250.43,330.70 L250.89,328.80 L251.34,326.85 L251.77,324.82 L252.20,322.70 L252.62,320.46 L253.04,318.12 L253.45,315.71 L253.84,313.24 L254.21,310.74 L254.55,308.23 L254.84,305.75 L255.10,303.30 L255.30,300.84 L255.46,298.33 L255.58,295.80 L255.67,293.28 L255.74,290.81 L255.79,288.41 L255.84,286.13 L255.90,284.00 L255.94,281.99 L255.96,280.07 L255.96,278.24 L255.96,276.51 L255.96,274.86 L255.97,273.31 L256.02,271.86 L256.10,270.50 L256.24,269.23 L256.42,268.05 L256.63,266.95 L256.86,265.96 L257.09,265.06 L257.30,264.29 L257.48,263.63 L257.60,263.10" fill="none" stroke="#90d890" stroke-width="1.1" stroke-linejoin="round" stroke-linecap="round" />
<path d="M61.50,665.33 L102.35,644.30 L143.20,617.66 L184.05,583.31 L224.90,549.66 L265.75,511.11" fill="none" stroke="#a9c4f0" stroke-width="1.0" stroke-linejoin="round" stroke-linecap="round" />
<rect x="57.80" y="661.63" width="7.4" height="7.4" fill="#98b8ee" stroke="#fff" stroke-width="1.6" paint-order="stroke"/>
<rect x="98.65" y="640.60" width="7.4" height="7.4" fill="#98b8ee" stroke="#fff" stroke-width="1.6" paint-order="stroke"/>
<rect x="139.50" y="613.96" width="7.4" height="7.4" fill="#98b8ee" stroke="#fff" stroke-width="1.6" paint-order="stroke"/>
<rect x="180.35" y="579.61" width="7.4" height="7.4" fill="#98b8ee" stroke="#fff" stroke-width="1.6" paint-order="stroke"/>
<rect x="221.20" y="545.96" width="7.4" height="7.4" fill="#98b8ee" stroke="#fff" stroke-width="1.6" paint-order="stroke"/>
<rect x="262.05" y="507.41" width="7.4" height="7.4" fill="#98b8ee" stroke="#fff" stroke-width="1.6" paint-order="stroke"/>
<path d="M356.30,674.60 L364.31,650.26 L366.31,647.97 L368.31,645.84 L370.32,643.87 L372.32,642.03 L374.32,640.31 L376.32,638.69 L378.33,637.17 L380.33,635.74 L382.33,634.38 L384.34,633.09 L386.34,631.86 L388.34,630.70 L390.34,629.58 L392.35,628.52 L394.35,627.50 L396.35,626.53 L398.35,625.60 L400.36,624.70 L402.36,623.85 L404.36,623.02 L406.36,622.23 L408.37,621.46 L410.37,620.73 L412.37,620.03 L414.37,619.35 L416.38,618.69 L418.38,618.06 L420.38,617.45 L422.38,616.87 L424.38,616.30 L426.39,615.76 L428.39,615.23 L430.39,614.73 L432.39,614.24 L434.40,613.77 L436.40,613.32 L438.40,612.88 L440.41,612.46 L442.41,612.05 L444.41,611.66 L446.41,611.28 L448.42,610.91 L450.42,610.56 L452.42,610.22 L454.42,609.89 L456.43,609.58 L458.43,609.27 L460.43,608.98 L462.43,608.69 L464.44,608.42 L466.44,608.15 L468.44,607.90 L470.44,607.65 L472.44,607.41 L474.45,607.18 L476.45,606.96 L478.45,606.75 L480.46,606.54 L482.46,606.34 L484.46,606.15 L486.46,605.97 L488.47,605.79 L490.47,605.62 L492.47,605.45 L494.47,605.29 L496.48,605.13 L498.48,604.98 L500.48,604.84 L502.48,604.70 L504.49,604.57 L506.49,604.44 L508.49,604.31 L510.49,604.19 L512.50,604.08 L514.50,603.96 L516.50,603.85 L518.50,603.75 L520.50,603.65 L522.51,603.55 L524.51,603.46 L526.51,603.37 L528.51,603.28 L530.52,603.20 L532.52,603.11 L534.52,603.04 L536.52,602.96 L538.53,602.89 L540.53,602.82 L542.53,602.75 L544.53,602.68 L546.54,602.62 L548.54,602.56 L550.54,602.50 L552.55,602.44 L554.55,602.39 L556.55,602.33 L558.55,602.28 L560.56,602.23 L562.56,602.19 L564.56,602.14 L566.56,602.09 L568.57,602.05 L570.57,602.01 L572.57,601.97 L574.57,601.93 L576.58,601.90 L578.58,601.86 L580.58,601.82 L582.58,601.79 L584.59,601.76 L586.59,601.73 L588.59,601.70 L590.59,601.67 L592.60,601.64 L594.60,601.61 L596.60,601.59 L598.60,601.56 L600.61,601.54 L602.61,601.52 L604.61,601.49 L606.61,601.47 L608.62,601.45 L610.62,601.43 L612.62,601.41 L614.62,601.39 L616.62,601.37 L618.63,601.36 L620.63,601.34 L622.63,601.32 L624.63,601.31 L626.64,601.29 L628.64,601.28 L630.64,601.26 L632.64,601.25 L634.65,601.24 L636.65,601.22 L638.65,601.21 L640.65,601.20 L642.66,601.19 L644.66,601.18 L646.66,601.17 L648.66,601.16 L650.67,601.15 L652.67,601.14 L654.67,601.13 L656.67,601.12 L658.68,601.11 L660.68,601.10 L662.68,601.09 L664.68,601.09 L666.69,601.08 L668.69,601.07 L670.69,601.06 L672.69,601.06 L674.70,601.05 L676.70,601.05" fill="none" stroke="#4169e1" stroke-width="1.3" stroke-linejoin="round" stroke-linecap="round" />
<path d="M356.30,674.60 L364.31,638.10 L366.31,634.65 L368.31,631.46 L370.32,628.50 L372.32,625.74 L374.32,623.16 L376.32,620.74 L378.33,618.46 L380.33,616.30 L382.33,614.26 L384.34,612.33 L386.34,610.49 L388.34,608.74 L390.34,607.08 L392.35,605.48 L394.35,603.96 L396.35,602.50 L398.35,601.10 L400.36,599.76 L402.36,598.47 L404.36,597.23 L406.36,596.04 L408.37,594.90 L410.37,593.80 L412.37,592.74 L414.37,591.72 L416.38,590.74 L418.38,589.79 L420.38,588.88 L422.38,588.00 L424.38,587.15 L426.39,586.34 L428.39,585.55 L430.39,584.79 L432.39,584.06 L434.40,583.36 L436.40,582.68 L438.40,582.02 L440.41,581.39 L442.41,580.78 L444.41,580.19 L446.41,579.62 L448.42,579.07 L450.42,578.54 L452.42,578.03 L454.42,577.54 L456.43,577.07 L458.43,576.61 L460.43,576.16 L462.43,575.74 L464.44,575.33 L466.44,574.93 L468.44,574.55 L470.44,574.18 L472.44,573.82 L474.45,573.48 L476.45,573.14 L478.45,572.82 L480.46,572.51 L482.46,572.22 L484.46,571.93 L486.46,571.65 L488.47,571.38 L490.47,571.12 L492.47,570.87 L494.47,570.63 L496.48,570.40 L498.48,570.18 L500.48,569.96 L502.48,569.75 L504.49,569.55 L506.49,569.36 L508.49,569.17 L510.49,568.99 L512.50,568.81 L514.50,568.64 L516.50,568.48 L518.50,568.33 L520.50,568.17 L522.51,568.03 L524.51,567.89 L526.51,567.75 L528.51,567.62 L530.52,567.49 L532.52,567.37 L534.52,567.25 L536.52,567.14 L538.53,567.03 L540.53,566.92 L542.53,566.82 L544.53,566.72 L546.54,566.63 L548.54,566.54 L550.54,566.45 L552.55,566.36 L554.55,566.28 L556.55,566.20 L558.55,566.12 L560.56,566.05 L562.56,565.98 L564.56,565.91 L566.56,565.84 L568.57,565.78 L570.57,565.72 L572.57,565.66 L574.57,565.60 L576.58,565.54 L578.58,565.49 L580.58,565.44 L582.58,565.39 L584.59,565.34 L586.59,565.29 L588.59,565.25 L590.59,565.20 L592.60,565.16 L594.60,565.12 L596.60,565.08 L598.60,565.05 L600.61,565.01 L602.61,564.97 L604.61,564.94 L606.61,564.91 L608.62,564.88 L610.62,564.85 L612.62,564.82 L614.62,564.79 L616.62,564.76 L618.63,564.73 L620.63,564.71 L622.63,564.68 L624.63,564.66 L626.64,564.64 L628.64,564.62 L630.64,564.60 L632.64,564.57 L634.65,564.55 L636.65,564.54 L638.65,564.52 L640.65,564.50 L642.66,564.48 L644.66,564.47 L646.66,564.45 L648.66,564.43 L650.67,564.42 L652.67,564.41 L654.67,564.39 L656.67,564.38 L658.68,564.37 L660.68,564.35 L662.68,564.34 L664.68,564.33 L666.69,564.32 L668.69,564.31 L670.69,564.30 L672.69,564.29 L674.70,564.28 L676.70,564.27" fill="none" stroke="#3cbf5a" stroke-width="1.3" stroke-linejoin="round" stroke-linecap="round" />
<path d="M356.30,674.60 L364.31,625.93 L366.31,621.33 L368.31,617.08 L370.32,613.13 L372.32,609.45 L374.32,606.01 L376.32,602.78 L378.33,599.74 L380.33,596.87 L382.33,594.15 L384.34,591.58 L386.34,589.13 L388.34,586.79 L390.34,584.57 L392.35,582.44 L394.35,580.41 L396.35,578.46 L398.35,576.60 L400.36,574.81 L402.36,573.09 L404.36,571.44 L406.36,569.85 L408.37,568.33 L410.37,566.86 L412.37,565.45 L414.37,564.09 L416.38,562.78 L418.38,561.52 L420.38,560.31 L422.38,559.14 L424.38,558.01 L426.39,556.92 L428.39,555.87 L430.39,554.86 L432.39,553.88 L434.40,552.94 L436.40,552.04 L438.40,551.16 L440.41,550.32 L442.41,549.50 L444.41,548.72 L446.41,547.96 L448.42,547.23 L450.42,546.52 L452.42,545.84 L454.42,545.19 L456.43,544.55 L458.43,543.94 L460.43,543.35 L462.43,542.78 L464.44,542.24 L466.44,541.71 L468.44,541.20 L470.44,540.70 L472.44,540.23 L474.45,539.77 L476.45,539.33 L478.45,538.90 L480.46,538.49 L482.46,538.09 L484.46,537.70 L486.46,537.33 L488.47,536.98 L490.47,536.63 L492.47,536.30 L494.47,535.98 L496.48,535.67 L498.48,535.37 L500.48,535.08 L502.48,534.80 L504.49,534.53 L506.49,534.27 L508.49,534.02 L510.49,533.78 L512.50,533.55 L514.50,533.33 L516.50,533.11 L518.50,532.90 L520.50,532.70 L522.51,532.50 L524.51,532.32 L526.51,532.13 L528.51,531.96 L530.52,531.79 L532.52,531.63 L534.52,531.47 L536.52,531.32 L538.53,531.17 L540.53,531.03 L542.53,530.90 L544.53,530.76 L546.54,530.64 L548.54,530.51 L550.54,530.40 L552.55,530.28 L554.55,530.17 L556.55,530.07 L558.55,529.96 L560.56,529.87 L562.56,529.77 L564.56,529.68 L566.56,529.59 L568.57,529.50 L570.57,529.42 L572.57,529.34 L574.57,529.26 L576.58,529.19 L578.58,529.12 L580.58,529.05 L582.58,528.98 L584.59,528.92 L586.59,528.86 L588.59,528.80 L590.59,528.74 L592.60,528.68 L594.60,528.63 L596.60,528.58 L598.60,528.53 L600.61,528.48 L602.61,528.43 L604.61,528.39 L606.61,528.34 L608.62,528.30 L610.62,528.26 L612.62,528.22 L614.62,528.18 L616.62,528.15 L618.63,528.11 L620.63,528.08 L622.63,528.05 L624.63,528.01 L626.64,527.98 L628.64,527.96 L630.64,527.93 L632.64,527.90 L634.65,527.87 L636.65,527.85 L638.65,527.82 L640.65,527.80 L642.66,527.78 L644.66,527.75 L646.66,527.73 L648.66,527.71 L650.67,527.69 L652.67,527.67 L654.67,527.66 L656.67,527.64 L658.68,527.62 L660.68,527.60 L662.68,527.59 L664.68,527.57 L666.69,527.56 L668.69,527.54 L670.69,527.53 L672.69,527.52 L674.70,527.50 L676.70,527.49" fill="none" stroke="#d9414e" stroke-width="1.3" stroke-linejoin="round" stroke-linecap="round" />
<path d="M356.30,674.60 L364.31,613.76 L366.31,608.01 L368.31,602.70 L370.32,597.77 L372.32,593.17 L374.32,588.87 L376.32,584.83 L378.33,581.03 L380.33,577.44 L382.33,574.04 L384.34,570.82 L386.34,567.76 L388.34,564.84 L390.34,562.06 L392.35,559.40 L394.35,556.86 L396.35,554.43 L398.35,552.10 L400.36,549.86 L402.36,547.71 L404.36,545.65 L406.36,543.67 L408.37,541.76 L410.37,539.93 L412.37,538.16 L414.37,536.46 L416.38,534.83 L418.38,533.25 L420.38,531.73 L422.38,530.27 L424.38,528.86 L426.39,527.50 L428.39,526.19 L430.39,524.92 L432.39,523.70 L434.40,522.53 L436.40,521.39 L438.40,520.30 L440.41,519.25 L442.41,518.23 L444.41,517.25 L446.41,516.30 L448.42,515.39 L450.42,514.50 L452.42,513.65 L454.42,512.83 L456.43,512.04 L458.43,511.28 L460.43,510.54 L462.43,509.83 L464.44,509.14 L466.44,508.48 L468.44,507.84 L470.44,507.23 L472.44,506.63 L474.45,506.06 L476.45,505.51 L478.45,504.97 L480.46,504.46 L482.46,503.96 L484.46,503.48 L486.46,503.02 L488.47,502.57 L490.47,502.14 L492.47,501.72 L494.47,501.32 L496.48,500.93 L498.48,500.56 L500.48,500.20 L502.48,499.85 L504.49,499.52 L506.49,499.19 L508.49,498.88 L510.49,498.58 L512.50,498.29 L514.50,498.01 L516.50,497.74 L518.50,497.48 L520.50,497.22 L522.51,496.98 L524.51,496.74 L526.51,496.52 L528.51,496.30 L530.52,496.09 L532.52,495.88 L534.52,495.69 L536.52,495.50 L538.53,495.32 L540.53,495.14 L542.53,494.97 L544.53,494.80 L546.54,494.65 L548.54,494.49 L550.54,494.35 L552.55,494.20 L554.55,494.07 L556.55,493.93 L558.55,493.81 L560.56,493.68 L562.56,493.56 L564.56,493.45 L566.56,493.34 L568.57,493.23 L570.57,493.13 L572.57,493.03 L574.57,492.93 L576.58,492.84 L578.58,492.75 L580.58,492.66 L582.58,492.58 L584.59,492.50 L586.59,492.42 L588.59,492.35 L590.59,492.27 L592.60,492.20 L594.60,492.14 L596.60,492.07 L598.60,492.01 L600.61,491.95 L602.61,491.89 L604.61,491.83 L606.61,491.78 L608.62,491.73 L610.62,491.68 L612.62,491.63 L614.62,491.58 L616.62,491.54 L618.63,491.49 L620.63,491.45 L622.63,491.41 L624.63,491.37 L626.64,491.33 L628.64,491.29 L630.64,491.26 L632.64,491.22 L634.65,491.19 L636.65,491.16 L638.65,491.13 L640.65,491.10 L642.66,491.07 L644.66,491.04 L646.66,491.02 L648.66,490.99 L650.67,490.97 L652.67,490.94 L654.67,490.92 L656.67,490.90 L658.68,490.88 L660.68,490.86 L662.68,490.84 L664.68,490.82 L666.69,490.80 L668.69,490.78 L670.69,490.76 L672.69,490.75 L674.70,490.73 L676.70,490.71" fill="none" stroke="#3dd3d8" stroke-width="1.4" stroke-linejoin="round" stroke-linecap="round" />
<line x1="390.1" y1="562.4" x2="390.1" y2="680" stroke="#111" stroke-width="1.6" stroke-dasharray="5,3.2"/>
<text x="414.00" y="656.46" font-size="10.5" text-anchor="middle" font-weight="bold" fill="#000" >4.6 s</text>
<line x1="553.50" y1="616.40" x2="595.80" y2="616.40" stroke="#4169e1" stroke-width="1.0" />
<text x="601" y="620.00" font-size="10.2" font-weight="bold">Q = 100 kW/m<tspan dy="-4" font-size="7">2</tspan></text>
<line x1="553.50" y1="633.80" x2="595.80" y2="633.80" stroke="#3cbf5a" stroke-width="1.6" />
<text x="601" y="637.40" font-size="10.2" font-weight="bold">Q = 150 kW/m<tspan dy="-4" font-size="7">2</tspan></text>
<line x1="553.50" y1="651.30" x2="595.80" y2="651.30" stroke="#d9414e" stroke-width="1.6" />
<text x="601" y="654.90" font-size="10.2" font-weight="bold">Q = 200 kW/m<tspan dy="-4" font-size="7">2</tspan></text>
<line x1="553.50" y1="668.40" x2="595.80" y2="668.40" stroke="#3dc8c8" stroke-width="1.1" />
<text x="601" y="672.00" font-size="10.2" font-weight="bold">Q = 250 kW/m<tspan dy="-4" font-size="7">2</tspan></text>
<ellipse cx="437" cy="123" rx="98.4" ry="96.3" fill="#7a0000"/>
<circle cx="367.19" cy="166.42" r="7.3" fill="none" stroke="#140000" stroke-width="0.8"/>
<circle cx="352.00" cy="127.20" r="7.3" fill="none" stroke="#140000" stroke-width="0.8"/>
<circle cx="365.58" cy="77.39" r="7.3" fill="none" stroke="#140000" stroke-width="0.8"/>
<circle cx="406.21" cy="46.83" r="7.3" fill="none" stroke="#140000" stroke-width="0.8"/>
<circle cx="450.04" cy="40.00" r="7.3" fill="none" stroke="#140000" stroke-width="0.8"/>
<circle cx="500.64" cy="61.04" r="7.3" fill="none" stroke="#140000" stroke-width="0.8"/>
<circle cx="521.60" cy="108.01" r="7.3" fill="none" stroke="#140000" stroke-width="0.8"/>
<circle cx="492.62" cy="166.89" r="7.3" fill="none" stroke="#140000" stroke-width="0.8"/>
<path d="M417.00,195.00 L411.34,148.67 L367.60,166.14 L398.30,133.37 L352.49,127.16 L398.26,113.05 L365.99,77.68 L409.32,96.21 L406.38,47.30 L435.72,87.52 L450.01,40.50 L459.56,87.93 L500.29,61.39 L472.35,102.30 L521.11,108.05 L473.64,122.61 L492.29,166.51 L453.01,141.57 L466.20,188.10" fill="none" stroke="#100000" stroke-width="6.3" stroke-linejoin="round" stroke-linecap="round"/>
<path d="M417.00,195.00 L411.34,148.67 L367.60,166.14 L398.30,133.37 L352.49,127.16 L398.26,113.05 L365.99,77.68 L409.32,96.21 L406.38,47.30 L435.72,87.52 L450.01,40.50 L459.56,87.93 L500.29,61.39 L472.35,102.30 L521.11,108.05 L473.64,122.61 L492.29,166.51 L453.01,141.57 L466.20,188.10" fill="none" stroke="#40d8b8" stroke-width="5.6" stroke-linejoin="round" stroke-linecap="round"/>
<path d="M417.00,195.00 L411.34,148.67 L367.60,166.14 L398.30,133.37 L352.49,127.16 L398.26,113.05 L365.99,77.68 L409.32,96.21 L406.38,47.30 L435.72,87.52 L450.01,40.50 L459.56,87.93 L500.29,61.39 L472.35,102.30 L521.11,108.05 L473.64,122.61 L492.29,166.51 L453.01,141.57 L466.20,188.10" fill="none" stroke="#1890ff" stroke-width="4.5" stroke-linejoin="round" stroke-linecap="round"/>
<path d="M417.00,195.00 L411.34,148.67 L367.60,166.14 L398.30,133.37 L352.49,127.16 L398.26,113.05 L365.99,77.68 L409.32,96.21 L406.38,47.30 L435.72,87.52 L450.01,40.50 L459.56,87.93 L500.29,61.39 L472.35,102.30 L521.11,108.05 L473.64,122.61 L492.29,166.51 L453.01,141.57 L466.20,188.10" fill="none" stroke="#0050f0" stroke-width="3.0" stroke-linejoin="round" stroke-linecap="round"/>
<line x1="417.00" y1="195.00" x2="411.34" y2="148.67" stroke="#40e0c0" stroke-width="5.0" stroke-linecap="round"/>
<line x1="417.00" y1="195.00" x2="411.34" y2="148.67" stroke="#18b0ff" stroke-width="3.6" stroke-linecap="round"/>
<line x1="453.01" y1="141.57" x2="466.20" y2="188.10" stroke="#40e0c0" stroke-width="5.0" stroke-linecap="round"/>
<line x1="453.01" y1="141.57" x2="466.20" y2="188.10" stroke="#18b0ff" stroke-width="3.6" stroke-linecap="round"/>
<g transform="translate(411.34,148.67) rotate(-149.4)"><ellipse cx="0" cy="-0.7" rx="3.0" ry="3.7" fill="url(#tipBi)"/></g>
<g transform="translate(367.60,166.14) rotate(55.7)"><ellipse cx="0" cy="-0.9" rx="3.0" ry="4.3" fill="url(#tipBo)"/></g>
<g transform="translate(398.30,133.37) rotate(-109.6)"><ellipse cx="0" cy="-0.7" rx="3.0" ry="3.7" fill="url(#tipBi)"/></g>
<g transform="translate(352.49,127.16) rotate(85.3)"><ellipse cx="0" cy="-0.9" rx="3.0" ry="4.3" fill="url(#tipBo)"/></g>
<g transform="translate(398.26,113.05) rotate(-74.8)"><ellipse cx="0" cy="-0.7" rx="3.0" ry="3.7" fill="url(#tipBi)"/></g>
<g transform="translate(365.99,77.68) rotate(-234.6)"><ellipse cx="0" cy="-0.9" rx="3.0" ry="4.3" fill="url(#tipBo)"/></g>
<g transform="translate(409.32,96.21) rotate(-35.1)"><ellipse cx="0" cy="-0.7" rx="3.0" ry="3.7" fill="url(#tipBi)"/></g>
<g transform="translate(406.38,47.30) rotate(-199.8)"><ellipse cx="0" cy="-0.9" rx="3.0" ry="4.3" fill="url(#tipBo)"/></g>
<g transform="translate(435.72,87.52) rotate(-9.6)"><ellipse cx="0" cy="-0.7" rx="3.0" ry="3.7" fill="url(#tipBi)"/></g>
<g transform="translate(450.01,40.50) rotate(-177.2)"><ellipse cx="0" cy="-0.9" rx="3.0" ry="4.3" fill="url(#tipBo)"/></g>
<g transform="translate(459.56,87.93) rotate(22.8)"><ellipse cx="0" cy="-0.7" rx="3.0" ry="3.7" fill="url(#tipBi)"/></g>
<g transform="translate(500.29,61.39) rotate(-134.4)"><ellipse cx="0" cy="-0.9" rx="3.0" ry="4.3" fill="url(#tipBo)"/></g>
<g transform="translate(472.35,102.30) rotate(65.5)"><ellipse cx="0" cy="-0.7" rx="3.0" ry="3.7" fill="url(#tipBi)"/></g>
<g transform="translate(521.11,108.05) rotate(-95.2)"><ellipse cx="0" cy="-0.9" rx="3.0" ry="4.3" fill="url(#tipBo)"/></g>
<g transform="translate(473.64,122.61) rotate(-245.0)"><ellipse cx="0" cy="-0.7" rx="3.0" ry="3.7" fill="url(#tipBi)"/></g>
<g transform="translate(492.29,166.51) rotate(-40.3)"><ellipse cx="0" cy="-0.9" rx="3.0" ry="4.3" fill="url(#tipBo)"/></g>
<g transform="translate(453.01,141.57) rotate(-216.7)"><ellipse cx="0" cy="-0.7" rx="3.0" ry="3.7" fill="url(#tipBi)"/></g>
<circle cx="417.00" cy="195.00" r="9.1" fill="#1a0000"/>
<circle cx="417.00" cy="195.00" r="8.5" fill="url(#padB)"/>
<circle cx="466.20" cy="188.10" r="9.1" fill="#1a0000"/>
<circle cx="466.20" cy="188.10" r="8.5" fill="url(#padB)"/>
<ellipse cx="135.15" cy="115.40" rx="106.15" ry="53.00" fill="url(#sideA)" stroke="#000050" stroke-width="0.5"/>
<ellipse cx="135.05" cy="109.0" rx="107.05" ry="53.3" fill="#ad5454" stroke="#222" stroke-width="0.8"/>
<ellipse cx="96.20" cy="149.80" rx="8.0" ry="4.1" fill="none" stroke="#2a0808" stroke-width="0.8"/>
<ellipse cx="57.70" cy="134.90" rx="8.0" ry="4.1" fill="none" stroke="#2a0808" stroke-width="0.8"/>
<ellipse cx="39.10" cy="105.50" rx="8.0" ry="4.1" fill="none" stroke="#2a0808" stroke-width="0.8"/>
<ellipse cx="61.00" cy="80.10" rx="8.0" ry="4.1" fill="none" stroke="#2a0808" stroke-width="0.8"/>
<ellipse cx="96.60" cy="65.20" rx="8.0" ry="4.1" fill="none" stroke="#2a0808" stroke-width="0.8"/>
<ellipse cx="153.20" cy="61.70" rx="8.0" ry="4.1" fill="none" stroke="#2a0808" stroke-width="0.8"/>
<ellipse cx="200.50" cy="75.70" rx="8.0" ry="4.1" fill="none" stroke="#2a0808" stroke-width="0.8"/>
<ellipse cx="213.60" cy="110.70" rx="8.0" ry="4.1" fill="none" stroke="#2a0808" stroke-width="0.8"/>
<path d="M162.60,147.50 L127.29,126.60 L97.67,148.22 L107.59,122.05 L59.68,133.99 L95.53,112.81 L41.20,105.26 L94.65,101.59 L62.98,80.40 L111.89,89.69 L98.26,66.00 L132.73,82.92 L153.10,62.88 L153.81,85.56 L199.51,75.98 L166.59,95.33 L212.52,110.15 L158.76,109.53 L203.60,128.80" fill="none" stroke="#202838" stroke-width="5.3" stroke-linejoin="round" stroke-linecap="round"/>
<path d="M162.60,147.50 L127.29,126.60 L97.67,148.22 L107.59,122.05 L59.68,133.99 L95.53,112.81 L41.20,105.26 L94.65,101.59 L62.98,80.40 L111.89,89.69 L98.26,66.00 L132.73,82.92 L153.10,62.88 L153.81,85.56 L199.51,75.98 L166.59,95.33 L212.52,110.15 L158.76,109.53 L203.60,128.80" fill="none" stroke="#5cd0f8" stroke-width="4.5" stroke-linejoin="round" stroke-linecap="round"/>
<path d="M162.60,147.50 L127.29,126.60 L97.67,148.22 L107.59,122.05 L59.68,133.99 L95.53,112.81 L41.20,105.26 L94.65,101.59 L62.98,80.40 L111.89,89.69 L98.26,66.00 L132.73,82.92 L153.10,62.88 L153.81,85.56 L199.51,75.98 L166.59,95.33 L212.52,110.15 L158.76,109.53 L203.60,128.80" fill="none" stroke="#4a94f0" stroke-width="3.0" stroke-linejoin="round" stroke-linecap="round"/>
<g transform="translate(127.29,126.60) rotate(-182.8)"><ellipse cx="0" cy="0.2" rx="2.4" ry="3.4" fill="url(#tipAi)"/></g>
<g transform="translate(97.67,148.22) rotate(37.3)"><ellipse cx="0" cy="0.4" rx="2.5" ry="4.2" fill="url(#tipAo)"/></g>
<g transform="translate(107.59,122.05) rotate(-131.6)"><ellipse cx="0" cy="0.2" rx="2.4" ry="3.4" fill="url(#tipAi)"/></g>
<g transform="translate(59.68,133.99) rotate(67.7)"><ellipse cx="0" cy="0.4" rx="2.5" ry="4.2" fill="url(#tipAo)"/></g>
<g transform="translate(95.53,112.81) rotate(-101.3)"><ellipse cx="0" cy="0.2" rx="2.4" ry="3.4" fill="url(#tipAi)"/></g>
<g transform="translate(41.20,105.26) rotate(-268.0)"><ellipse cx="0" cy="0.4" rx="2.5" ry="4.2" fill="url(#tipAo)"/></g>
<g transform="translate(94.65,101.59) rotate(-75.1)"><ellipse cx="0" cy="0.2" rx="2.4" ry="3.4" fill="url(#tipAi)"/></g>
<g transform="translate(62.98,80.40) rotate(-247.7)"><ellipse cx="0" cy="0.4" rx="2.5" ry="4.2" fill="url(#tipAo)"/></g>
<g transform="translate(111.89,89.69) rotate(-54.6)"><ellipse cx="0" cy="0.2" rx="2.4" ry="3.4" fill="url(#tipAi)"/></g>
<g transform="translate(98.26,66.00) rotate(-226.9)"><ellipse cx="0" cy="0.4" rx="2.5" ry="4.2" fill="url(#tipAo)"/></g>
<g transform="translate(132.73,82.92) rotate(-9.2)"><ellipse cx="0" cy="0.2" rx="2.4" ry="3.4" fill="url(#tipAi)"/></g>
<g transform="translate(153.10,62.88) rotate(-158.2)"><ellipse cx="0" cy="0.4" rx="2.5" ry="4.2" fill="url(#tipAo)"/></g>
<g transform="translate(153.81,85.56) rotate(38.2)"><ellipse cx="0" cy="0.2" rx="2.4" ry="3.4" fill="url(#tipAi)"/></g>
<g transform="translate(199.51,75.98) rotate(-111.1)"><ellipse cx="0" cy="0.4" rx="2.5" ry="4.2" fill="url(#tipAo)"/></g>
<g transform="translate(166.59,95.33) rotate(83.7)"><ellipse cx="0" cy="0.2" rx="2.4" ry="3.4" fill="url(#tipAi)"/></g>
<g transform="translate(212.52,110.15) rotate(-80.7)"><ellipse cx="0" cy="0.4" rx="2.5" ry="4.2" fill="url(#tipAo)"/></g>
<g transform="translate(158.76,109.53) rotate(-258.0)"><ellipse cx="0" cy="0.2" rx="2.4" ry="3.4" fill="url(#tipAi)"/></g>
<ellipse cx="162.60" cy="147.50" rx="10.4" ry="5.8" fill="#302020"/>
<ellipse cx="162.60" cy="147.50" rx="10.0" ry="5.4" fill="url(#padA)"/>
<ellipse cx="203.60" cy="128.80" rx="10.4" ry="5.8" fill="#302020"/>
<ellipse cx="203.60" cy="128.80" rx="10.0" ry="5.4" fill="url(#padA)"/>
<path d="M431.40,398.80 L428.09,363.29 L393.26,378.35 L419.14,352.36 L382.20,347.63 L418.53,336.60 L392.56,309.86 L426.94,325.15 L423.86,286.06 L445.38,318.51 L456.05,280.70 L461.83,319.17 L493.83,297.96 L471.93,328.77 L509.70,332.77 L472.73,343.33 L489.09,378.99 L457.96,356.96 L468.20,394.40" fill="none" stroke="#000080" stroke-width="5.8" stroke-linejoin="round" stroke-linecap="round"/>
<path d="M431.40,398.80 L428.09,363.29 L393.26,378.35 L419.14,352.36 L382.20,347.63 L418.53,336.60 L392.56,309.86 L426.94,325.15 L423.86,286.06 L445.38,318.51 L456.05,280.70 L461.83,319.17 L493.83,297.96 L471.93,328.77 L509.70,332.77 L472.73,343.33 L489.09,378.99 L457.96,356.96 L468.20,394.40" fill="none" stroke="#0070ff" stroke-width="5.1" stroke-linejoin="round" stroke-linecap="round"/>
<path d="M431.40,398.80 L428.09,363.29 L393.26,378.35 L419.14,352.36 L382.20,347.63 L418.53,336.60 L392.56,309.86 L426.94,325.15 L423.86,286.06 L445.38,318.51 L456.05,280.70 L461.83,319.17 L493.83,297.96 L471.93,328.77 L509.70,332.77 L472.73,343.33 L489.09,378.99 L457.96,356.96 L468.20,394.40" fill="none" stroke="#30f0e8" stroke-width="4.5" stroke-linejoin="round" stroke-linecap="round"/>
<line x1="431.40" y1="398.80" x2="428.09" y2="363.29" stroke="#ff7500" stroke-width="3.7" stroke-linecap="round"/>
<line x1="428.09" y1="363.29" x2="393.26" y2="378.35" stroke="#bdff42" stroke-width="3.7" stroke-linecap="round"/>
<line x1="393.26" y1="378.35" x2="419.14" y2="352.36" stroke="#ffdb00" stroke-width="3.7" stroke-linecap="round"/>
<line x1="419.14" y1="352.36" x2="382.20" y2="347.63" stroke="#f0ff0f" stroke-width="3.7" stroke-linecap="round"/>
<line x1="382.20" y1="347.63" x2="418.53" y2="336.60" stroke="#ffc700" stroke-width="3.7" stroke-linecap="round"/>
<line x1="418.53" y1="336.60" x2="392.56" y2="309.86" stroke="#dbff24" stroke-width="3.7" stroke-linecap="round"/>
<line x1="392.56" y1="309.86" x2="426.94" y2="325.15" stroke="#ffe500" stroke-width="3.7" stroke-linecap="round"/>
<line x1="426.94" y1="325.15" x2="423.86" y2="286.06" stroke="#80ff80" stroke-width="3.7" stroke-linecap="round"/>
<line x1="423.86" y1="286.06" x2="445.38" y2="318.51" stroke="#faff05" stroke-width="3.7" stroke-linecap="round"/>
<line x1="445.38" y1="318.51" x2="456.05" y2="280.70" stroke="#05fffa" stroke-width="3.7" stroke-linecap="round"/>
<line x1="456.05" y1="280.70" x2="461.83" y2="319.17" stroke="#42ffbd" stroke-width="3.7" stroke-linecap="round"/>
<line x1="461.83" y1="319.17" x2="493.83" y2="297.96" stroke="#2effd1" stroke-width="3.7" stroke-linecap="round"/>
<line x1="493.83" y1="297.96" x2="471.93" y2="328.77" stroke="#6bff94" stroke-width="3.7" stroke-linecap="round"/>
<line x1="471.93" y1="328.77" x2="509.70" y2="332.77" stroke="#2effd1" stroke-width="3.7" stroke-linecap="round"/>
<line x1="509.70" y1="332.77" x2="472.73" y2="343.33" stroke="#0ffff0" stroke-width="3.7" stroke-linecap="round"/>
<line x1="472.73" y1="343.33" x2="489.09" y2="378.99" stroke="#00f0ff" stroke-width="3.7" stroke-linecap="round"/>
<line x1="489.09" y1="378.99" x2="457.96" y2="356.96" stroke="#57ffa8" stroke-width="3.7" stroke-linecap="round"/>
<line x1="457.96" y1="356.96" x2="468.20" y2="394.40" stroke="#00b3ff" stroke-width="3.7" stroke-linecap="round"/>
<line x1="431.40" y1="398.80" x2="428.09" y2="363.29" stroke="#ff0f00" stroke-width="2.2" stroke-linecap="round"/>
<line x1="428.09" y1="363.29" x2="393.26" y2="378.35" stroke="#ffdb00" stroke-width="2.2" stroke-linecap="round"/>
<line x1="393.26" y1="378.35" x2="419.14" y2="352.36" stroke="#ff7500" stroke-width="2.2" stroke-linecap="round"/>
<line x1="419.14" y1="352.36" x2="382.20" y2="347.63" stroke="#ffa800" stroke-width="2.2" stroke-linecap="round"/>
<line x1="382.20" y1="347.63" x2="418.53" y2="336.60" stroke="#ff6100" stroke-width="2.2" stroke-linecap="round"/>
<line x1="418.53" y1="336.60" x2="392.56" y2="309.86" stroke="#ffbd00" stroke-width="2.2" stroke-linecap="round"/>
<line x1="392.56" y1="309.86" x2="426.94" y2="325.15" stroke="#ff8000" stroke-width="2.2" stroke-linecap="round"/>
<line x1="426.94" y1="325.15" x2="423.86" y2="286.06" stroke="#e5ff1a" stroke-width="2.2" stroke-linecap="round"/>
<line x1="423.86" y1="286.06" x2="445.38" y2="318.51" stroke="#ff9e00" stroke-width="2.2" stroke-linecap="round"/>
<line x1="445.38" y1="318.51" x2="456.05" y2="280.70" stroke="#6bff94" stroke-width="2.2" stroke-linecap="round"/>
<line x1="456.05" y1="280.70" x2="461.83" y2="319.17" stroke="#a8ff57" stroke-width="2.2" stroke-linecap="round"/>
<line x1="461.83" y1="319.17" x2="493.83" y2="297.96" stroke="#94ff6b" stroke-width="2.2" stroke-linecap="round"/>
<line x1="493.83" y1="297.96" x2="471.93" y2="328.77" stroke="#d1ff2e" stroke-width="2.2" stroke-linecap="round"/>
<line x1="471.93" y1="328.77" x2="509.70" y2="332.77" stroke="#94ff6b" stroke-width="2.2" stroke-linecap="round"/>
<line x1="509.70" y1="332.77" x2="472.73" y2="343.33" stroke="#75ff8a" stroke-width="2.2" stroke-linecap="round"/>
<line x1="472.73" y1="343.33" x2="489.09" y2="378.99" stroke="#57ffa8" stroke-width="2.2" stroke-linecap="round"/>
<line x1="489.09" y1="378.99" x2="457.96" y2="356.96" stroke="#bdff42" stroke-width="2.2" stroke-linecap="round"/>
<line x1="457.96" y1="356.96" x2="468.20" y2="394.40" stroke="#1affe5" stroke-width="2.2" stroke-linecap="round"/>
<g transform="translate(393.26,378.35) rotate(55.8)"><ellipse cx="0" cy="-0.7" rx="2.8" ry="3.7" fill="url(#tipD)"/></g>
<g transform="translate(382.20,347.63) rotate(85.2)"><ellipse cx="0" cy="-0.7" rx="2.8" ry="3.7" fill="url(#tipD)"/></g>
<g transform="translate(392.56,309.86) rotate(-235.1)"><ellipse cx="0" cy="-0.7" rx="2.8" ry="3.7" fill="url(#tipD)"/></g>
<g transform="translate(423.86,286.06) rotate(-199.0)"><ellipse cx="0" cy="-0.7" rx="2.8" ry="3.7" fill="url(#tipD)"/></g>
<g transform="translate(456.05,280.70) rotate(-176.4)"><ellipse cx="0" cy="-0.7" rx="2.8" ry="3.7" fill="url(#tipD)"/></g>
<g transform="translate(493.83,297.96) rotate(-134.1)"><ellipse cx="0" cy="-0.7" rx="2.8" ry="3.7" fill="url(#tipD)"/></g>
<g transform="translate(509.70,332.77) rotate(-95.0)"><ellipse cx="0" cy="-0.7" rx="2.8" ry="3.7" fill="url(#tipD)"/></g>
<g transform="translate(489.09,378.99) rotate(-39.7)"><ellipse cx="0" cy="-0.7" rx="2.8" ry="3.7" fill="url(#tipD)"/></g>
<g transform="translate(428.09,363.29) rotate(-149.4)"><ellipse cx="0" cy="-0.3" rx="2.9" ry="3.3" fill="url(#tipDi)"/></g>
<g transform="translate(419.14,352.36) rotate(-108.9)"><ellipse cx="0" cy="-0.3" rx="2.9" ry="3.3" fill="url(#tipDi)"/></g>
<g transform="translate(418.53,336.60) rotate(-75.5)"><ellipse cx="0" cy="-0.3" rx="2.9" ry="3.3" fill="url(#tipDi)"/></g>
<g transform="translate(426.94,325.15) rotate(-35.3)"><ellipse cx="0" cy="-0.3" rx="2.9" ry="3.3" fill="url(#tipDi)"/></g>
<g transform="translate(445.38,318.51) rotate(-8.9)"><ellipse cx="0" cy="-0.3" rx="2.9" ry="3.3" fill="url(#tipDi)"/></g>
<g transform="translate(461.83,319.17) rotate(24.0)"><ellipse cx="0" cy="-0.3" rx="2.9" ry="3.3" fill="url(#tipDi)"/></g>
<g transform="translate(471.93,328.77) rotate(65.7)"><ellipse cx="0" cy="-0.3" rx="2.9" ry="3.3" fill="url(#tipDi)"/></g>
<g transform="translate(472.73,343.33) rotate(-245.3)"><ellipse cx="0" cy="-0.3" rx="2.9" ry="3.3" fill="url(#tipDi)"/></g>
<g transform="translate(457.96,356.96) rotate(-215.0)"><ellipse cx="0" cy="-0.3" rx="2.9" ry="3.3" fill="url(#tipDi)"/></g>
<circle cx="431.4" cy="398.8" r="7.2" fill="url(#padDL)"/>
<circle cx="468.2" cy="394.4" r="7.2" fill="url(#padDR)"/>
<clipPath id="insetClip"><rect x="52.7" y="262.7" width="73.5" height="59.5"/></clipPath>
<rect x="52.2" y="262.2" width="74.5" height="60.5" fill="#fff"/>
<g clip-path="url(#insetClip)">
<path d="M63.4,263.5 Q104,270 117.9,308.9" fill="none" stroke="#a8b8f8" stroke-width="0.6"/>
<path d="M53.20,307.80 L61.40,270.80 L67.30,306.60 L98.90,285.90 L75.50,316.10 L114.00,319.40" fill="none" stroke="#8a8a8a" stroke-width="5.4" stroke-linejoin="round" stroke-linecap="round"/>
<path d="M53.20,307.80 L61.40,270.80 L67.30,306.60 L98.90,285.90 L75.50,316.10 L114.00,319.40" fill="none" stroke="#cacaca" stroke-width="4.2" stroke-linejoin="round" stroke-linecap="round"/>
<circle cx="53.2" cy="307.8" r="2.2" fill="none" stroke="#5868c8" stroke-width="0.7"/>
<circle cx="61.4" cy="270.8" r="2.2" fill="none" stroke="#5868c8" stroke-width="0.7"/>
<circle cx="67.3" cy="306.6" r="2.2" fill="none" stroke="#5868c8" stroke-width="0.7"/>
<circle cx="98.9" cy="285.9" r="2.2" fill="none" stroke="#5868c8" stroke-width="0.7"/>
<circle cx="75.5" cy="316.1" r="2.2" fill="none" stroke="#5868c8" stroke-width="0.7"/>
<circle cx="114.0" cy="319.4" r="2.2" fill="none" stroke="#5868c8" stroke-width="0.7"/>
<line x1="75.5" y1="316.1" x2="98.6" y2="285.5" stroke="#c83028" stroke-width="1.5"/>
</g>
<rect x="52.2" y="262.2" width="74.5" height="60.5" fill="none" stroke="#b8e0a8" stroke-width="1"/>
<line x1="94.9" y1="299.7" x2="201" y2="367.5" stroke="#c27a92" stroke-width="1.3" stroke-dasharray="8,4.5"/>
<polygon points="210.3,373.6 195.6,371.4 202.6,361.3" fill="#c27a92"/>
</svg>
</body></html>
